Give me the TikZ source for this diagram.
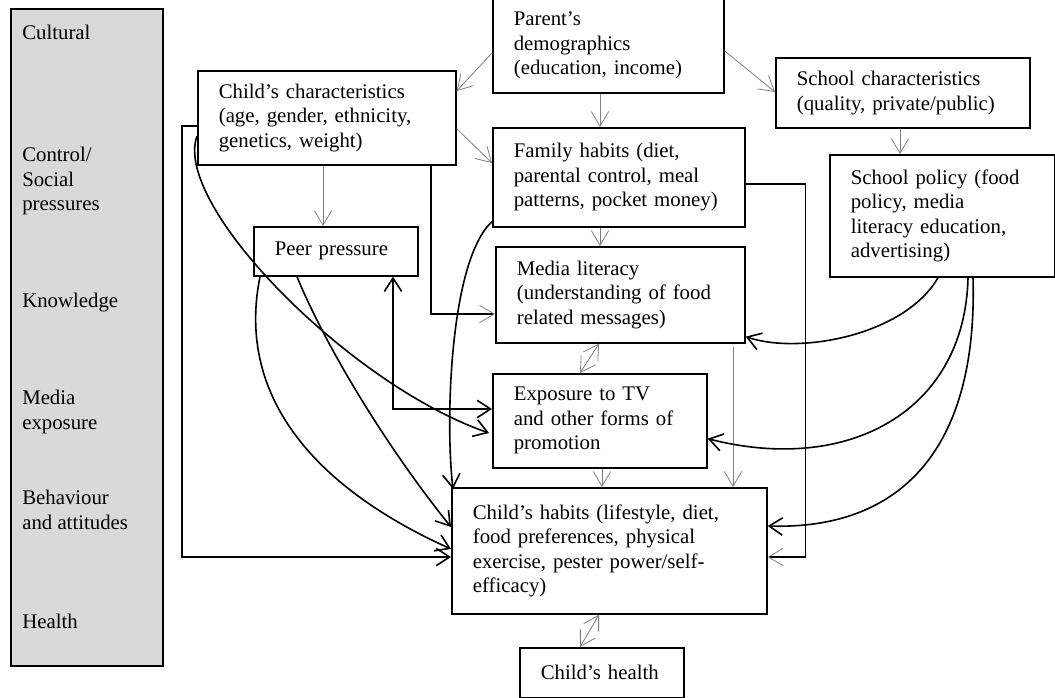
\documentclass[tikz,border=0pt]{standalone}
\usepackage{fontspec}
\setmainfont{Liberation Serif}
\usetikzlibrary{arrows.meta,calc}
\definecolor{panel}{HTML}{D9D9D9}
\definecolor{thingray}{HTML}{7F7F7F}

\tikzset{
  box/.style 2 args={draw, line width=1.25pt, anchor=north west, align=left,
    inner xsep=15.75pt, inner ysep=0pt,
    minimum width=#1*0.75pt, minimum height=#2*0.75pt,
    text width=(#1-42)*0.75pt},
  lbl/.style={anchor=west, align=left, inner sep=0pt},
  thin arrow/.style={draw=thingray, line width=0.6pt,
    -{Straight Barb[length=11pt,width=13pt]}},
  thin double/.style={draw=thingray, line width=0.6pt,
    {Straight Barb[length=11pt,width=13pt]}-{Straight Barb[length=11pt,width=13pt]}},
  mid arrow/.style={draw=black, line width=0.9pt,
    -{Straight Barb[length=11pt,width=13pt,color=thingray,line width=0.6pt]}},
  thick arrow/.style={line width=1.2pt,
    -{Straight Barb[length=10pt,width=13pt]}},
  thick double/.style={line width=1.2pt,
    {Straight Barb[length=10pt,width=13pt]}-{Straight Barb[length=10pt,width=13pt]}},
}

\begin{document}
\begin{tikzpicture}[x=0.75pt,y=-0.75pt,font=\fontsize{15.6}{18.4}\selectfont]
\useasboundingbox (0,0) rectangle (1055,698);

% level panel on the left
\node[draw, fill=panel, line width=1.25pt, anchor=north west, inner sep=0pt,
  minimum width=152*0.75pt, minimum height=657*0.75pt] (side) at (10,8) {};
\node[lbl] (l1) at (22,32) {Cultural};
\node[lbl] (l2) at (22,181) {Control/\\Social\\pressures};
\node[lbl] (l3) at (22,303) {Knowledge};
\node[lbl] (l4) at (22,412) {Media\\exposure};
\node[lbl] (l5) at (22,510) {Behaviour\\and attitudes};
\node[lbl] (l6) at (22,621) {Health};

% boxes
\node[box={231}{95}] (parent) at (492,-3) {Parent’s\\demographics\\(education, income)};
\node[box={258}{94}] (cc) at (197,70) {Child’s characteristics\\(age, gender, ethnicity,\\genetics, weight)};
\node[box={254}{70}] (sc) at (775,57) {School characteristics\\(quality, private/public)};
\node[box={225}{122}] (sp) at (829,154) {School policy (food\\policy, media\\literacy education,\\advertising)};
\node[box={252}{99}] (fh) at (492,127) {Family habits (diet,\\parental control, meal\\patterns, pocket money)};
\node[box={164}{49}] (pp) at (253,226) {Peer pressure};
\node[box={249}{96}] (ml) at (495,246) {Media literacy\\(understanding of food\\related messages)};
\node[box={214}{94}] (ex) at (492,373) {Exposure to TV\\and other forms of\\promotion};
\node[box={315}{126}] (ch) at (451,487) {Child’s habits (lifestyle, diet,\\food preferences, physical\\exercise, pester power/self-\\efficacy)};
\node[box={164}{50}] (hl) at (519,647) {Child’s health};

% thin connectors
\draw[thin arrow] ($(parent.north west)+(0,56)$) -- ($(cc.north east)+(0,21)$);
\draw[thin arrow] ($(parent.north east)+(0,54)$) -- ($(sc.north west)+(0,35)$);
\draw[thin arrow] ($(parent.south west)+(108,0)$) -- ($(fh.north west)+(108,0)$);
\draw[thin arrow] ($(cc.south east)+(0,-37)$) -- ($(fh.north west)+(0,36)$);
\draw[thin arrow] ($(cc.south west)+(126,0)$) -- ($(pp.north west)+(70,0)$);
\draw[thin arrow] ($(sc.south west)+(125,0)$) -- ($(sp.north west)+(71,0)$);
\draw[thin arrow] ($(fh.south west)+(108,0)$) -- ($(ml.north west)+(105,0)$);
\draw[mid arrow] ($(cc.south west)+(234,0)$) |- ($(ml.north west)+(0,68)$);
\draw[thin double] ($(ml.south west)+(104,0)$) -- ($(ex.north west)+(88,0)$);
\draw[thin arrow] ($(ex.south west)+(110,0)$) -- ($(ch.north west)+(151,0)$);
\draw[thin arrow] ($(ml.south west)+(238,3)$) -- ($(ch.north west)+(282,0)$);
\draw[mid arrow] ($(fh.north east)+(0,57)$) -- ++(60,0) |- ($(ch.north east)+(0,70)$);
\draw[thin double] ($(ch.south west)+(148,0)$) -- ($(hl.north west)+(61,0)$);

% thick connectors
\draw[thick arrow] ($(cc.north west)+(0,56)$) -- ++(-15,0) |- ($(ch.north west)+(0,70)$);
\draw[thick arrow] ($(cc.north west)+(0,66)$) .. controls (172,205) and (350,385) .. ($(ex.north west)+(-3,60)$);
\draw[thick arrow] ($(pp.south west)+(7,0)$) .. controls (235,400) and (320,490) .. ($(ch.north west)+(0,62)$);
\draw[thick arrow] ($(pp.south west)+(44,0)$) .. controls (325,345) and (385,445) .. ($(ch.north west)+(0,40)$);
\draw[thick double] ($(pp.south west)+(140,0)$) |- ($(ex.north west)+(0,36)$);
\draw[thick arrow] ($(fh.south west)+(0,-6)$) .. controls (450,260) and (445,420) .. ($(ch.north west)+(2,2)$);
\draw[thick arrow] ($(sp.south west)+(109,0)$) .. controls (905,335) and (800,355) .. ($(ml.south east)+(0,-7)$);
\draw[thick arrow] ($(sp.south west)+(139,0)$) .. controls (965,410) and (850,475) .. ($(ex.south east)+(0,-30)$);
\draw[thick arrow] ($(sp.south west)+(144,0)$) .. controls (978,450) and (900,530) .. ($(ch.north east)+(0,39)$);
\end{tikzpicture}
\end{document}
